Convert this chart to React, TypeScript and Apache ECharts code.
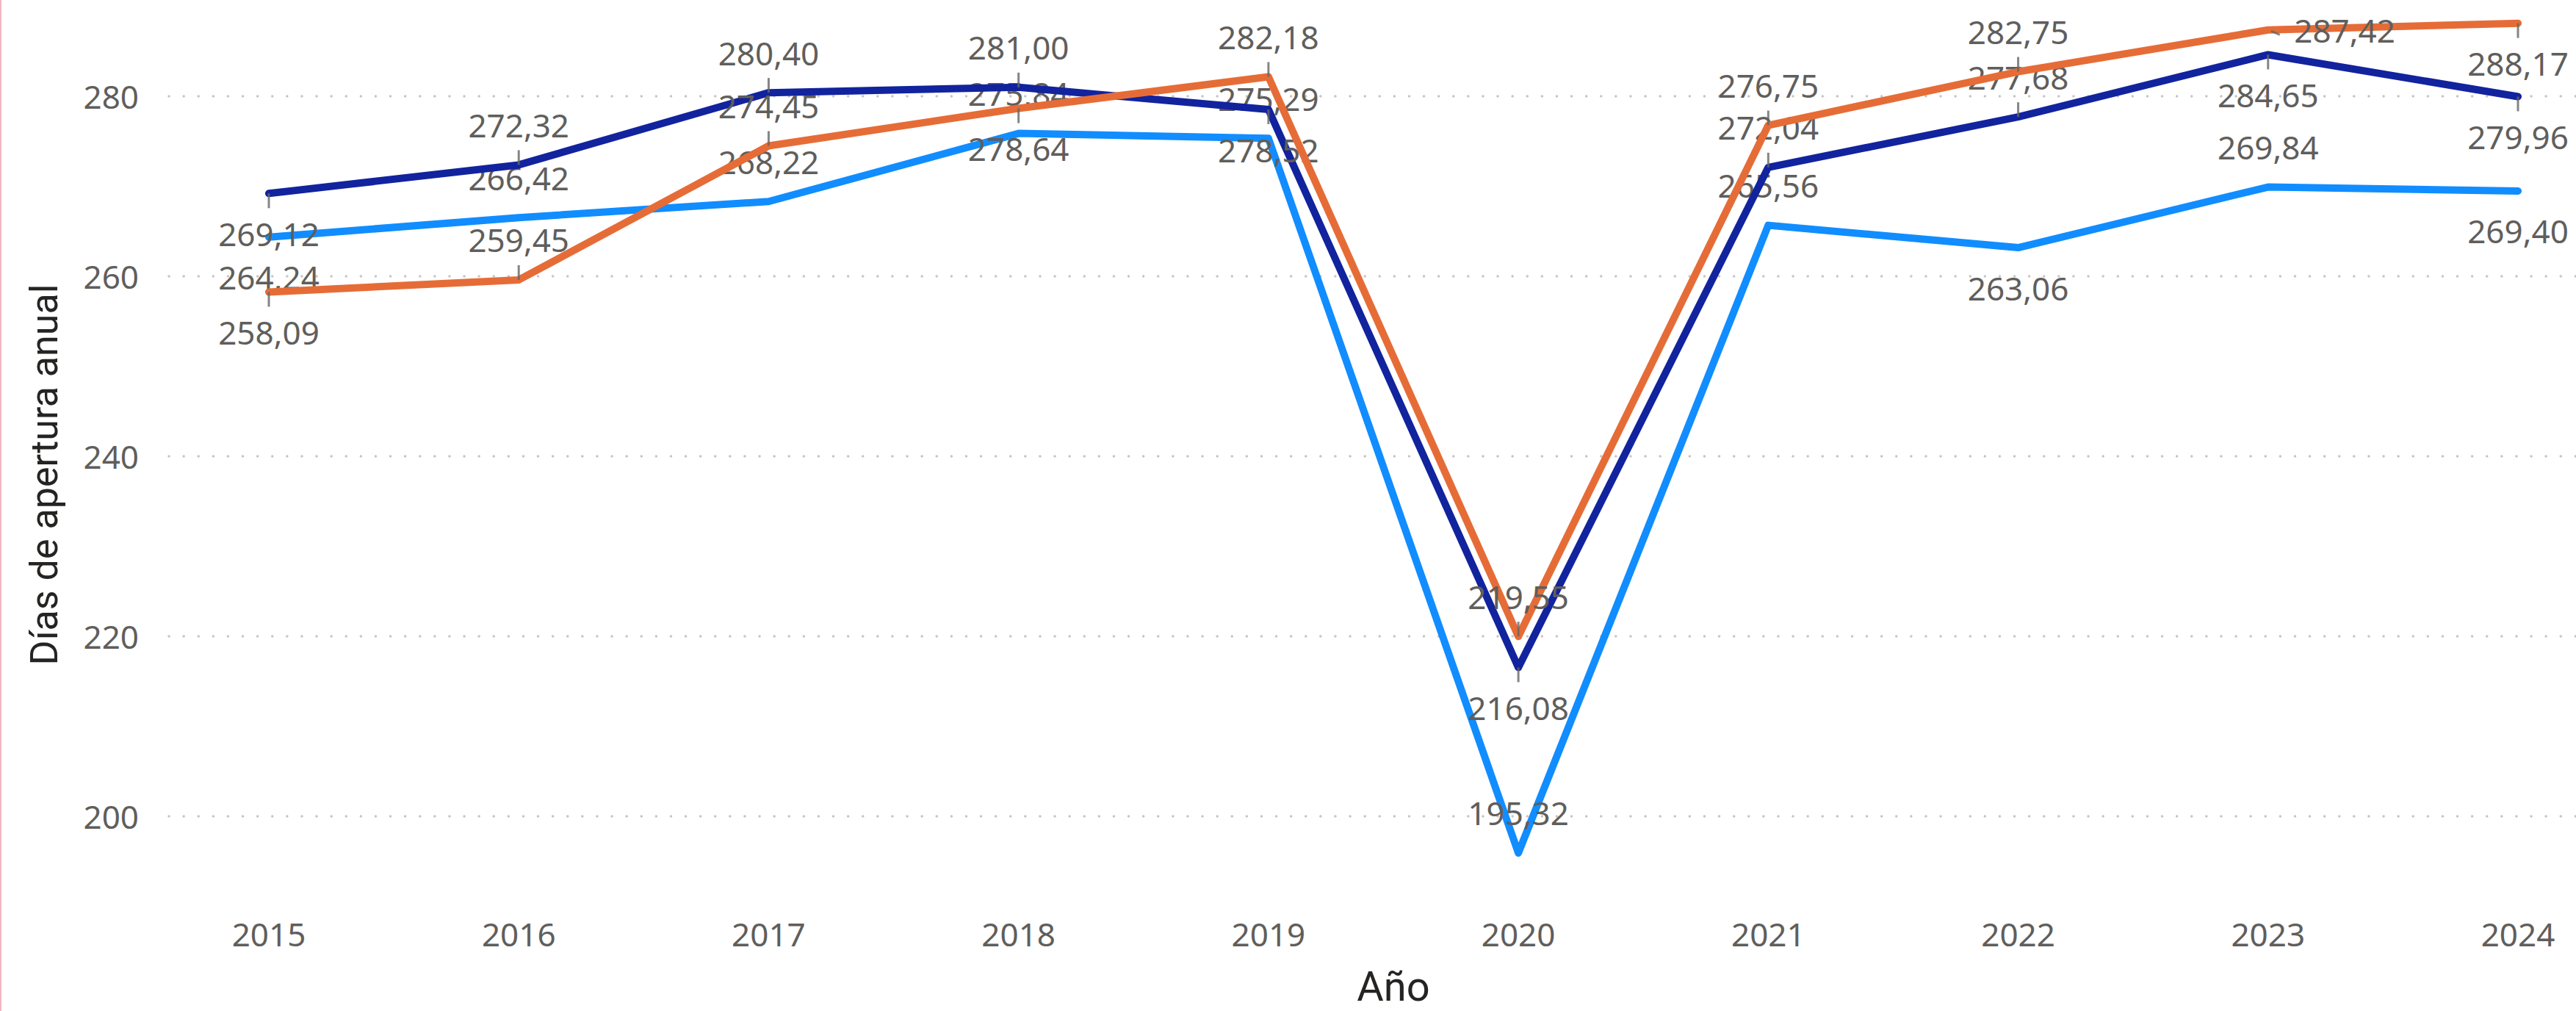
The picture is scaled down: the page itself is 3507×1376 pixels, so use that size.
import React, { useEffect, useRef } from "react";
import * as echarts from "echarts";

const years = ["2015", "2016", "2017", "2018", "2019", "2020", "2021", "2022", "2023", "2024"];
const lightValues = [264.24, 266.42, 268.22, 275.84, 275.29, 195.32, 265.56, 263.06, 269.84, 269.4];
const darkValues = [269.12, 272.32, 280.4, 281.0, 278.52, 216.08, 272.04, 277.68, 284.65, 279.96];
const orangeValues = [258.09, 259.45, 274.45, 278.64, 282.18, 219.55, 276.75, 282.75, 287.42, 288.17];
const lightLabelPos = ["bottom", "top", "top", "top", "top", "top", "top", "bottom", "top", "bottom"];
const darkLabelPos = ["bottom", "top", "top", "top", "bottom", "bottom", "top", "top", "bottom", "bottom"];
const orangeLabelPos = ["bottom", "top", "top", "bottom", "top", "top", "top", "top", "right", "bottom"];
const yMin = 200;
const yMax = 280;
const yInterval = 20;

const LIGHT = "#118DFF";
const DARK = "#12239E";
const ORANGE = "#E66C37";
const LABEL_GREY = "#605E5C";
const FONT = "'Noto Sans', 'Open Sans', sans-serif";

const fmt = (v: number) => v.toFixed(2).replace(".", ",");

function lineSeries(name: string, values: number[], positions: string[], color: string, z: number) {
  return {
    type: "line",
    name,
    xAxisIndex: 0,
    yAxisIndex: 0,
    clip: false,
    z,
    symbol: "circle",
    symbolSize: 9,
    showSymbol: true,
    itemStyle: { color },
    lineStyle: { color, width: 10, cap: "round", join: "round" },
    emphasis: { disabled: true },
    data: values.map((v, i) => ({
      value: v,
      label: {
        show: true,
        position: positions[i],
        distance: positions[i] === "right" ? 31 : 28,
        formatter: fmt(v),
      },
    })),
    label: {
      show: true,
      color: LABEL_GREY,
      fontSize: 44,
      lineHeight: 44,
      fontFamily: FONT,
    },
  };
}

function leaderSeries(values: number[], positions: string[]) {
  return {
    type: "scatter",
    xAxisIndex: 0,
    yAxisIndex: 0,
    clip: false,
    silent: true,
    z: 6,
    itemStyle: { color: "#666666" },
    data: values.map((v, i) => {
      const p = positions[i];
      if (p === "right") {
        return { value: v, symbol: "rect", symbolSize: [3, 13], symbolRotate: 67, symbolOffset: [10, 4] };
      }
      return {
        value: v,
        symbol: "rect",
        symbolSize: [3, 20],
        symbolOffset: [0, p === "top" ? -10 : 10],
      };
    }),
  };
}

export default function App() {
  const ref = useRef<HTMLDivElement>(null);
  useEffect(() => {
    if (!ref.current) return;
    const chart = echarts.init(ref.current, null, { renderer: "svg" });
    chart.setOption({
      animation: false,
      backgroundColor: "#ffffff",
      grid: [
        { left: 366, right: 79, top: 131, bottom: 265 },
        { left: 230, right: 0, top: 131, bottom: 265 },
      ],
      xAxis: [
        {
          type: "category",
          gridIndex: 0,
          data: years,
          boundaryGap: false,
          axisLine: { show: false },
          axisTick: { show: false },
          splitLine: { show: false },
          axisLabel: {
            color: LABEL_GREY,
            fontSize: 44,
            lineHeight: 44,
            fontFamily: FONT,
            margin: 145,
          },
          name: "Año",
          nameLocation: "middle",
          nameGap: 211,
          nameTextStyle: {
            color: "#252423",
            fontSize: 56,
            lineHeight: 56,
            fontFamily: "Roboto, sans-serif",
          },
        },
        {
          type: "category",
          gridIndex: 1,
          data: years,
          boundaryGap: false,
          show: false,
        },
      ],
      yAxis: [
        {
          type: "value",
          gridIndex: 0,
          min: yMin,
          max: yMax,
          interval: yInterval,
          show: false,
          splitLine: { show: false },
        },
        {
          type: "value",
          gridIndex: 1,
          min: yMin,
          max: yMax,
          interval: yInterval,
          axisLine: { show: false },
          axisTick: { show: false },
          axisLabel: {
            color: LABEL_GREY,
            fontSize: 44,
            fontFamily: FONT,
            margin: 41,
          },
          splitLine: {
            show: true,
            lineStyle: { color: "#C8C6C4", width: 3.5, type: [0.1, 20], cap: "round" },
          },
        },
      ],
      graphic: [
        {
          type: "rect",
          shape: { x: 0, y: 0, width: 2, height: 1376 },
          style: { fill: "#F2B6BF" },
          silent: true,
        },
        {
          type: "text",
          x: 60,
          y: 646,
          rotation: Math.PI / 2,
          style: {
            text: "Días de apertura anual",
            fontSize: 52,
            fontFamily: "Roboto, sans-serif",
            fill: "#252423",
            align: "center",
            verticalAlign: "middle",
          },
          silent: true,
        },
      ],
      series: [
        lineSeries("Serie 1", lightValues, lightLabelPos, LIGHT, 2),
        lineSeries("Serie 2", darkValues, darkLabelPos, DARK, 3),
        lineSeries("Serie 3", orangeValues, orangeLabelPos, ORANGE, 4),
        leaderSeries(darkValues, darkLabelPos),
        leaderSeries(orangeValues, orangeLabelPos),
      ],
    });
    return () => chart.dispose();
  }, []);
  return (
    <div
      ref={ref}
      style={{ position: "fixed", left: 0, top: 0, width: 3507, height: 1376, background: "#fff" }}
    />
  );
}
